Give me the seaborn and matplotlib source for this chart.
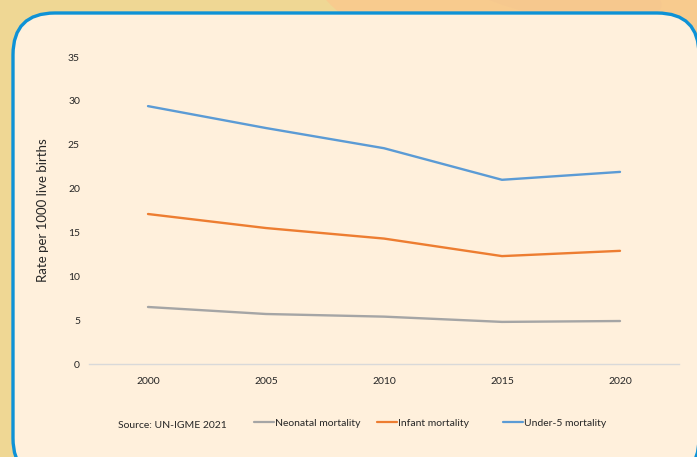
import matplotlib
matplotlib.use("Agg")
import matplotlib.pyplot as plt
from matplotlib.patches import FancyBboxPatch, Ellipse
from matplotlib.lines import Line2D
import seaborn as sns
import pandas as pd

# values
years = [2000, 2005, 2010, 2015, 2020]
neonatal = [6.5, 5.7, 5.4, 4.8, 4.9]
infant = [17.1, 15.5, 14.3, 12.3, 12.9]
under5 = [29.4, 26.9, 24.6, 21.0, 21.9]
series_names = ["Neonatal mortality", "Infant mortality", "Under-5 mortality"]
series_colors = ["#A5A5A5", "#ED7D31", "#5B9BD5"]
y_ticks = [0, 5, 10, 15, 20, 25, 30, 35]

df = pd.DataFrame({
    "year": years * 3,
    "rate": neonatal + infant + under5,
    "series": [s for s in series_names for _ in years],
})

sns.set_theme(style="white")
plt.rcParams["font.family"] = ["Lato", "DejaVu Sans"]

W, H = 697, 457
fig = plt.figure(figsize=(W / 100, H / 100), dpi=100)
fig.patch.set_facecolor("#EFD794")

# decorative background blob + rounded panel (pixel coords -> figure fraction)
def fx(px):
    return px / W

def fy(py):
    return 1 - py / H

fig.patches.append(Ellipse((fx(640), fy(-40)), 0.95, 0.55, transform=fig.transFigure,
                           facecolor="#F8CB8E", edgecolor="none", zorder=0))
fig.patches.append(Ellipse((fx(560), fy(-10)), 0.30, 0.12, transform=fig.transFigure,
                           facecolor="#F6C88E", edgecolor="none", zorder=0, angle=-15))
panel = FancyBboxPatch((fx(13), fy(480)), fx(699) - fx(13), fy(13) - fy(480),
                       boxstyle="round,pad=0,rounding_size=0.06",
                       transform=fig.transFigure, facecolor="#FFF0DC",
                       edgecolor="#0E92D6", linewidth=2.4, zorder=1,
                       mutation_aspect=W / H)
fig.patches.append(panel)

ax = fig.add_axes([fx(89), fy(364), fx(679) - fx(89), (364 - 57) / H])
ax.set_zorder(2)
ax.patch.set_alpha(0)

sns.lineplot(data=df, x="year", y="rate", hue="series", hue_order=series_names,
             palette=series_colors, linewidth=1.7, legend=False, ax=ax)

ax.set_xlim(years[0] - 2.5, years[-1] + 2.5)
ax.set_ylim(0, 35)
ax.set_xticks(years)
ax.set_xticklabels([str(y) for y in years])
ax.set_yticks(y_ticks)
ax.tick_params(axis="x", length=0, pad=9, labelsize=7.5, colors="#262626")
ax.tick_params(axis="y", length=0, pad=6.5, labelsize=7.5, colors="#262626")
for side in ["top", "right", "left"]:
    ax.spines[side].set_visible(False)
ax.spines["bottom"].set_color("#D9D9D9")
ax.spines["bottom"].set_linewidth(1.0)
ax.set_xlabel("")
ax.set_ylabel("Rate per 1000 live births", fontsize=9.5, color="#262626", labelpad=14)

fig.text(fx(118), fy(425), "Source: UN-IGME 2021", fontsize=7.5, color="#262626",
         va="center", ha="left", zorder=3)

# one legend per entry so positions match the original spacing
legend_x = [254, 377, 503]
for name, color, lx in zip(series_names, series_colors, legend_x):
    h = Line2D([], [], color=color, linewidth=1.6)
    leg = fig.legend([h], [name], loc="center left", bbox_to_anchor=(fx(lx), fy(423)),
                     frameon=False, fontsize=7.5, handlelength=1.9, handletextpad=0.15,
                     borderpad=0, borderaxespad=0)
    for t in leg.get_texts():
        t.set_color("#262626")
    leg.set_zorder(3)

fig.savefig("out.png", dpi=100, facecolor=fig.get_facecolor())
